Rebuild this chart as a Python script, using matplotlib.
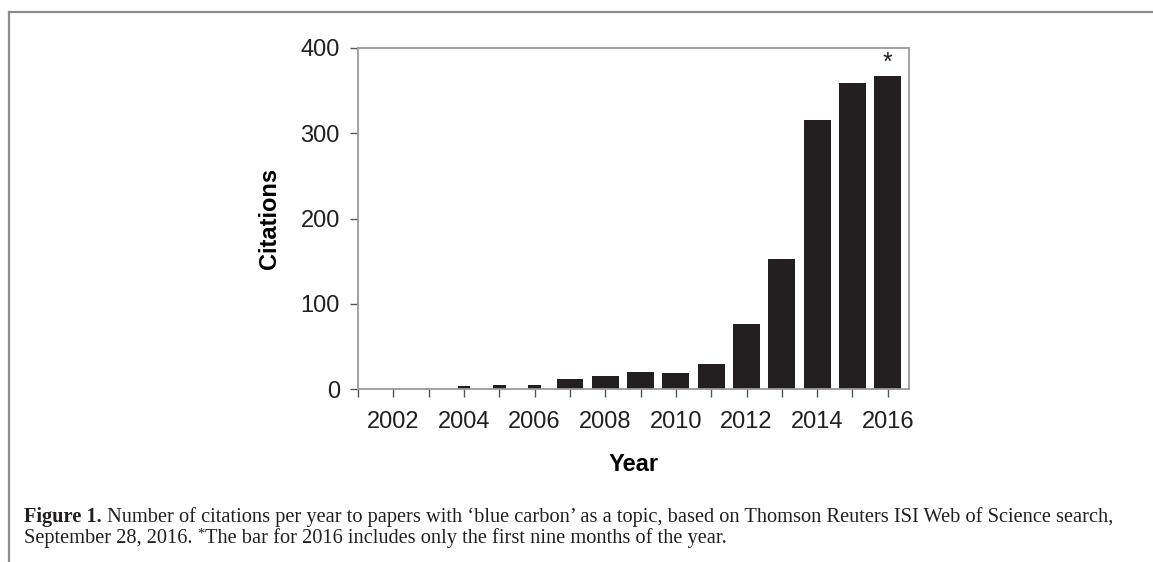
import matplotlib
matplotlib.use('Agg')
import matplotlib.pyplot as plt
from matplotlib.lines import Line2D

# citations per year
years = list(range(2002, 2017))
citations = [0, 0, 3, 5, 5, 12, 15, 20, 19, 29, 76, 152, 316, 359, 367]
xlabels = [str(y) if y % 2 == 0 else '' for y in years]
yticks = [0, 100, 200, 300, 400]

caption_bold = 'Figure 1.'
caption_l1 = (" Number of citations per year to papers with \u2018blue carbon\u2019 as a topic, "
              "based on Thomson Reuters ISI Web of Science search,")
caption_l2a = 'September 28, 2016. '
caption_l2b = 'The bar for 2016 includes only the first nine months of the year.'

W, H = 1153, 562
plt.rcParams['font.family'] = ['Liberation Sans', 'DejaVu Sans']
bar_col = '#231f20'
frame_col = '#8c8c8c'

fig = plt.figure(figsize=(W / 100, H / 100), dpi=100)
ax = fig.add_axes([358 / W, 1 - 389 / H, (909 - 358) / W, (389 - 48) / H])

# the tiny bars look thinner in the original
widths = [0.76 if c > 10 else 0.36 for c in citations]
ax.bar(years, citations, width=widths, color=bar_col, zorder=2)
ax.annotate('*', xy=(years[-1], citations[-1]), xytext=(0, 1), textcoords='offset points',
            ha='center', va='bottom', fontsize=18, color=bar_col)

ax.set_xlim(2001.0, 2016.6)
ax.set_ylim(0, 400)
ax.set_yticks(yticks)
ax.set_xticks([2001] + years)
ax.set_xticklabels([''] + xlabels)
for s in ax.spines.values():
    s.set_color('#9a9a9a')
    s.set_linewidth(1.3)
ax.tick_params(direction='out', length=6, width=1, color='#555555', labelsize=17,
               labelcolor='#231f20')
ax.tick_params(axis='x', pad=10)
ax.tick_params(axis='y', pad=7)
ax.set_ylabel('Citations', fontsize=17, fontweight='bold', labelpad=14)
ax.set_xlabel('Year', fontsize=17, fontweight='bold', labelpad=14)

# frame around the figure panel (top and left only)
fig.add_artist(Line2D([9 / W, 1], [1 - 12 / H, 1 - 12 / H], color=frame_col, lw=1.6))
fig.add_artist(Line2D([9 / W, 9 / W], [0, 1 - 12 / H], color=frame_col, lw=1.6))

# caption, mixed bold / regular
r = fig.canvas.get_renderer()
fs = 14.7
serif = ['Liberation Serif', 'DejaVu Serif']
x0 = 24 / W
y1 = 1 - 522 / H
y2 = 1 - 543 / H
t = fig.text(x0, y1, caption_bold, fontsize=fs, fontweight='bold', family=serif,
             va='baseline', color='#231f20')
bb = t.get_window_extent(r)
fig.text(bb.x1 / W, y1, caption_l1, fontsize=fs, family=serif, va='baseline', color='#231f20')
t = fig.text(x0, y2, caption_l2a, fontsize=fs, family=serif, va='baseline', color='#231f20')
bb = t.get_window_extent(r)
t = fig.text(bb.x1 / W, y2 + 5 / H, '*', fontsize=fs * 0.7, family=serif, va='baseline',
             color='#231f20')
bb = t.get_window_extent(r)
fig.text(bb.x1 / W, y2, caption_l2b, fontsize=fs, family=serif, va='baseline', color='#231f20')

fig.savefig('out.png', dpi=100)
